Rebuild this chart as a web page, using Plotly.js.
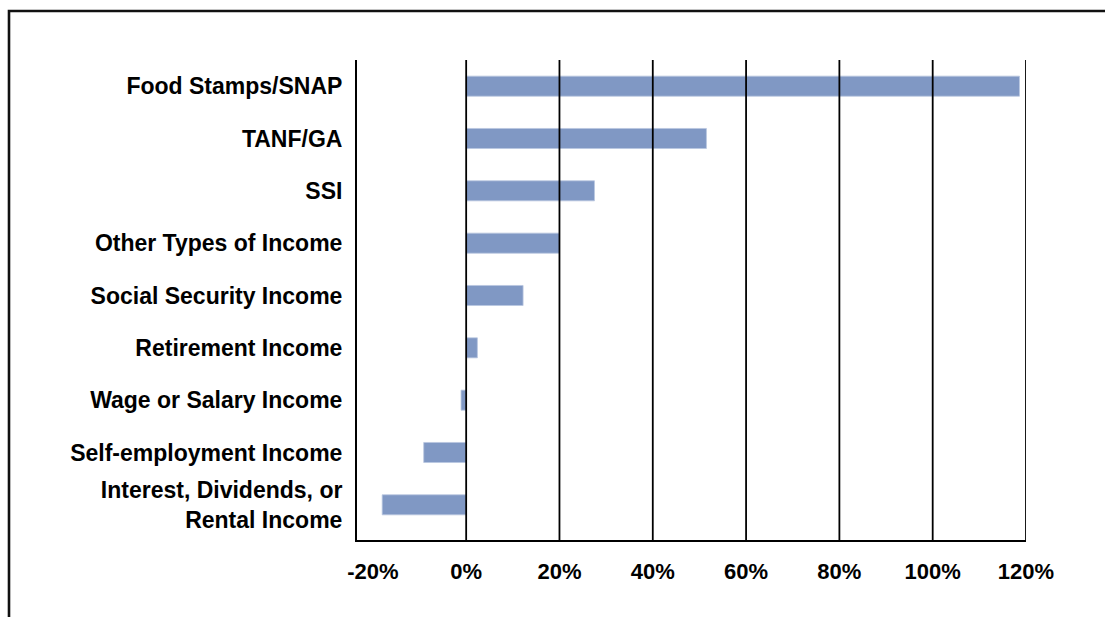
<!DOCTYPE html>
<html>
<head>
<meta charset="utf-8">
<script src="https://cdn.plot.ly/plotly-3.0.1.min.js"></script>
<style>html,body{margin:0;padding:0;background:#fff;}#chart{width:1105px;height:617px;}</style>
</head>
<body>
<div id="chart"></div>
<script>
const categories = [
  "Food Stamps/SNAP",
  "TANF/GA",
  "SSI",
  "Other Types of Income",
  "Social Security Income",
  "Retirement Income",
  "Wage or Salary Income",
  "Self-employment Income",
  "Interest, Dividends, or<br>Rental Income"
];
const values = [118.6, 51.5, 27.5, 20.0, 12.2, 2.4, -1.1, -9.1, -18.0];
const tickVals = [-20, 0, 20, 40, 60, 80, 100, 120];
const tickText = ["-20%", "0%", "20%", "40%", "60%", "80%", "100%", "120%"];
const gridVals = [0, 20, 40, 60, 80, 100, 120];

const W = 1105, H = 617;
const L = 357, R = 1026, T = 60, B = 540;
const px = v => (v - L) / (R - L);
const py = v => (B - v) / (B - T);

const shapes = gridVals.map(g => ({
  type: 'line', xref: 'x', yref: 'paper', x0: g, x1: g, y0: 0, y1: 1,
  line: {color: '#000', width: 1.8}, layer: 'above'
}));
shapes.push({
  type: 'rect', xref: 'paper', yref: 'paper',
  x0: px(9), x1: px(1125), y0: py(11), y1: py(660),
  line: {color: '#111', width: 2.6}, fillcolor: 'rgba(0,0,0,0)', layer: 'above'
});

const trace = {
  type: 'bar', orientation: 'h',
  x: values, y: categories,
  marker: {color: '#8098c4', line: {color: '#b9c6df', width: 0.8}},
  hoverinfo: 'skip'
};

const layout = {
  width: W, height: H,
  margin: {l: L, r: W - R, t: T, b: H - B, pad: 0},
  paper_bgcolor: '#fff', plot_bgcolor: '#fff',
  showlegend: false,
  bargap: 0.617,
  font: {family: 'Liberation Sans, Arial, sans-serif', color: '#000'},
  xaxis: {
    range: [-23.4, 120], tickvals: tickVals, ticktext: tickText,
    showgrid: false, zeroline: false, showline: true, linecolor: '#000', linewidth: 2,
    ticks: '', ticklabelstandoff: 11,
    tickfont: {family: 'Liberation Sans, Arial, sans-serif', size: 22, color: '#000', weight: 'bold'},
    fixedrange: true
  },
  yaxis: {
    type: 'category', range: [8.672, -0.5],
    showgrid: false, zeroline: false, showline: true, linecolor: '#000', linewidth: 2,
    ticks: '', ticklabelstandoff: 8,
    tickfont: {family: 'Liberation Sans, Arial, sans-serif', size: 23, color: '#000', weight: 'bold'},
    fixedrange: true
  },
  shapes: shapes
};

Plotly.newPlot('chart', [trace], layout, {displayModeBar: false, staticPlot: true});
</script>
</body>
</html>
